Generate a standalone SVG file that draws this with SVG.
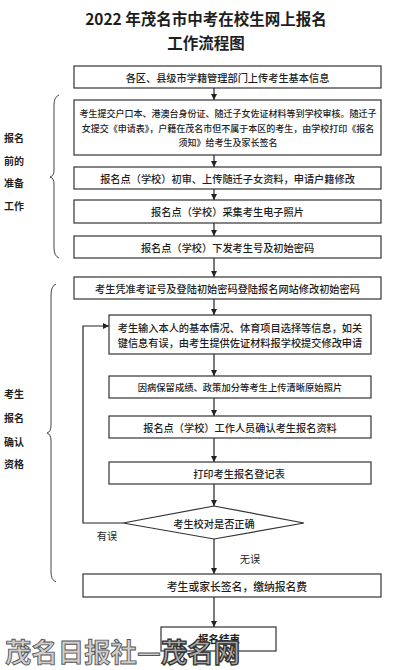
<svg xmlns="http://www.w3.org/2000/svg" width="411" height="670" viewBox="0 0 411 670">
<defs>
<marker id="ah" viewBox="0 0 10 10" refX="10" refY="5" markerWidth="6" markerHeight="6" markerUnits="userSpaceOnUse" orient="auto">
<path d="M0,0 L10,5 L0,10 z" fill="#222"/>
</marker>
</defs>
<style>
text{font-family:"Noto Sans CJK SC","Noto Sans CJK TC",sans-serif;fill:#1e1e1e;dominant-baseline:central;text-anchor:middle}
.t{font-size:15.5px;font-weight:bold}
.b{font-size:10.2px;font-weight:500}
.s{font-size:9px;font-weight:500}
.l{font-size:10px;font-weight:bold}
.box{fill:#fff;stroke:#333;stroke-width:1.2}
.c{fill:none;stroke:#222;stroke-width:1.2}
.br{fill:none;stroke:#444;stroke-width:1}
.wm1{font-size:26.4px;font-weight:bold;fill:#cfcfcf;stroke:#555;stroke-width:0.9;text-anchor:start;dominant-baseline:alphabetic}
.wm2{fill:#a8a8a8;stroke:#333;stroke-width:1.3}
</style>
<g id="title">
<text class="t" x="206" y="18">2022 年茂名市中考在校生网上报名</text>
<text class="t" x="206" y="42">工作流程图</text>
</g>
<g id="labels">
<g id="label1">
<text class="l" x="14" y="137">报名</text>
<text class="l" x="14" y="160">前的</text>
<text class="l" x="14" y="182">准备</text>
<text class="l" x="14" y="205">工作</text>
</g>
<g id="label2">
<text class="l" x="14" y="393">考生</text>
<text class="l" x="14" y="417">报名</text>
<text class="l" x="14" y="441">确认</text>
<text class="l" x="14" y="463">资格</text>
</g>
<g id="braces">
<path class="br" d="M59,95 Q54,97 54,105 L54,170 Q54,176 50,177 Q54,178 54,184 L54,248 Q54,256 59,258"/>
<path class="br" d="M56,284 Q51,286 51,295 L51,425 Q51,432 47,433 Q51,434 51,441 L51,572 Q51,580 56,582"/>
</g>
</g>
<g id="connectors">
<line class="c" x1="214" y1="88" x2="214" y2="100" marker-end="url(#ah)"/>
<line class="c" x1="214" y1="155" x2="214" y2="167" marker-end="url(#ah)"/>
<line class="c" x1="214" y1="189" x2="214" y2="200" marker-end="url(#ah)"/>
<line class="c" x1="214" y1="223" x2="214" y2="236" marker-end="url(#ah)"/>
<line class="c" x1="214" y1="258" x2="214" y2="277" marker-end="url(#ah)"/>
<line class="c" x1="214" y1="299" x2="214" y2="315" marker-end="url(#ah)"/>
<line class="c" x1="214" y1="354" x2="214" y2="376" marker-end="url(#ah)"/>
<line class="c" x1="214" y1="398" x2="214" y2="416" marker-end="url(#ah)"/>
<line class="c" x1="214" y1="438" x2="214" y2="462" marker-end="url(#ah)"/>
<line class="c" x1="214" y1="484" x2="214" y2="506" marker-end="url(#ah)"/>
<line class="c" x1="214" y1="539" x2="214" y2="574" marker-end="url(#ah)"/>
<line class="c" x1="214" y1="597" x2="214" y2="627" marker-end="url(#ah)"/>
<polyline class="c" points="123,523 83,523 83,326 109,326" marker-end="url(#ah)"/>
<text class="b" x="107" y="535" style="font-weight:400">有误</text>
<text class="b" x="250" y="558" style="font-weight:400">无误</text>
</g>
<g id="n1"><rect class="box" x="74" y="66" width="307" height="22"/><text class="b" x="227.5" y="77.5">各区、县级市学籍管理部门上传考生基本信息</text></g>
<g id="n2"><rect class="box" x="74" y="100" width="307" height="55"/>
<text class="s" x="228" y="113">考生提交户口本、港澳台身份证、随迁子女佐证材料等到学校审核。随迁子</text>
<text class="s" x="228" y="128">女提交《申请表》，户籍在茂名市但不属于本区的考生，由学校打印《报名</text>
<text class="s" x="228" y="142">须知》给考生及家长签名</text></g>
<g id="n3"><rect class="box" x="74" y="167" width="307" height="22"/><text class="b" x="227.5" y="178">报名点（学校）初审、上传随迁子女资料，申请户籍修改</text></g>
<g id="n4"><rect class="box" x="74" y="200" width="307" height="23"/><text class="b" x="227.5" y="211.5">报名点（学校）采集考生电子照片</text></g>
<g id="n5"><rect class="box" x="74" y="236" width="307" height="22"/><text class="b" x="227.5" y="247">报名点（学校）下发考生号及初始密码</text></g>
<g id="n6"><rect class="box" x="74" y="277" width="307" height="22"/><text class="b" x="227.5" y="288">考生凭准考证号及登陆初始密码登陆报名网站修改初始密码</text></g>
<g id="n7"><rect class="box" x="109" y="315" width="262" height="39"/>
<text class="b" x="240" y="327">考生输入本人的基本情况、体育项目选择等信息，如关</text>
<text class="b" x="240" y="342">键信息有误，由考生提供佐证材料报学校提交修改申请</text></g>
<g id="n8"><rect class="box" x="109" y="376" width="262" height="22"/><text class="b" x="240" y="387" style="font-size:9.3px">因病保留成绩、政策加分等考生上传清晰原始照片</text></g>
<g id="n9"><rect class="box" x="109" y="416" width="262" height="22"/><text class="b" x="240" y="427">报名点（学校）工作人员确认考生报名资料</text></g>
<g id="n10"><rect class="box" x="109" y="462" width="262" height="22"/><text class="b" x="239" y="473">打印考生报名登记表</text></g>
<g id="n11"><polygon class="box" points="214,506 304,523 214,539 123,523"/><text class="b" x="214" y="523">考生校对是否正确</text></g>
<g id="n12"><rect class="box" x="83" y="574" width="298" height="23"/><text class="b" x="237" y="585.5" style="font-size:10.8px">考生或家长签名，缴纳报名费</text></g>
<g id="n13"><rect class="box" x="161" y="627" width="115" height="24"/><text class="b" x="219" y="638" style="font-size:10.5px;font-weight:bold">报名结束</text></g>
<g id="watermark">
<text class="wm1" x="5" y="662">茂名日报社—<tspan class="wm2">茂名网</tspan></text>
</g>
</svg>
